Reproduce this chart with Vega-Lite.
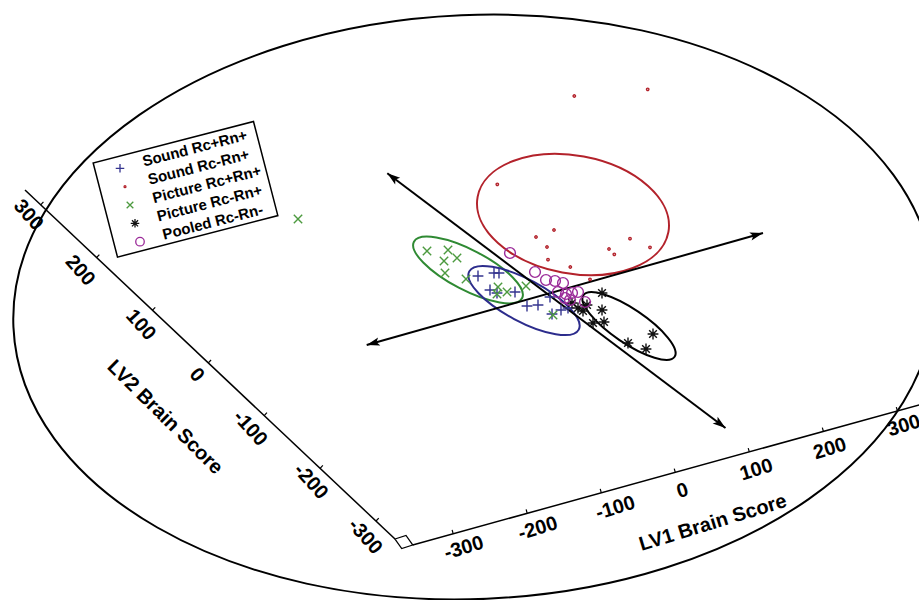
{
  "$schema": "https://vega.github.io/schema/vega-lite/v6.json",
  "width": 919,
  "height": 600,
  "autosize": "none",
  "padding": 0,
  "background": "white",
  "config": {"view": {"stroke": null}},
  "datasets": {
    "frame": [{"sx": 474, "sy": 307}],
    "axisLines": [
      {"axis": "LV1", "sx": 412.7, "sy": 545, "sx2": 925, "sy2": 403.3},
      {"axis": "LV2", "sx": 25, "sy": 190, "sx2": 395, "sy2": 539}
    ],
    "corner": [{"sx": 401.7, "sy": 548.5}],
    "ticks": [
      {"axis": "LV1", "value": -300, "sx": 453.2, "sy": 533.8},
      {"axis": "LV1", "value": -200, "sx": 527.2, "sy": 513.3},
      {"axis": "LV1", "value": -100, "sx": 601.3, "sy": 492.8},
      {"axis": "LV1", "value": 0, "sx": 675.3, "sy": 472.4},
      {"axis": "LV1", "value": 100, "sx": 749.3, "sy": 451.9},
      {"axis": "LV1", "value": 200, "sx": 823.4, "sy": 431.4},
      {"axis": "LV1", "value": 300, "sx": 897.4, "sy": 410.9},
      {"axis": "LV2", "value": 300, "sx": 40.7, "sy": 204.8},
      {"axis": "LV2", "value": 200, "sx": 96.6, "sy": 257.5},
      {"axis": "LV2", "value": 100, "sx": 152.5, "sy": 310.2},
      {"axis": "LV2", "value": 0, "sx": 208.3, "sy": 362.9},
      {"axis": "LV2", "value": -100, "sx": 264.2, "sy": 415.6},
      {"axis": "LV2", "value": -200, "sx": 320.1, "sy": 468.3},
      {"axis": "LV2", "value": -300, "sx": 376, "sy": 521}
    ],
    "tickLabels": [
      {"axis": "LV1", "label": "-300", "sx": 464, "sy": 548},
      {"axis": "LV1", "label": "-200", "sx": 538, "sy": 528.5},
      {"axis": "LV1", "label": "-100", "sx": 615.5, "sy": 508},
      {"axis": "LV1", "label": "0", "sx": 682.5, "sy": 491},
      {"axis": "LV1", "label": "100", "sx": 756.4, "sy": 470},
      {"axis": "LV1", "label": "200", "sx": 830, "sy": 449},
      {"axis": "LV1", "label": "300", "sx": 904, "sy": 426},
      {"axis": "LV2", "label": "300", "sx": 28.3, "sy": 215},
      {"axis": "LV2", "label": "200", "sx": 80, "sy": 270.7},
      {"axis": "LV2", "label": "100", "sx": 140.7, "sy": 325},
      {"axis": "LV2", "label": "0", "sx": 196.7, "sy": 375},
      {"axis": "LV2", "label": "-100", "sx": 250, "sy": 428.3},
      {"axis": "LV2", "label": "-200", "sx": 310.7, "sy": 481.7},
      {"axis": "LV2", "label": "-300", "sx": 365, "sy": 536.7}
    ],
    "titles": [
      {"axis": "LV1", "title": "LV1 Brain Score", "sx": 713, "sy": 523},
      {"axis": "LV2", "title": "LV2 Brain Score", "sx": 165, "sy": 417.3}
    ],
    "arrows": [
      {"sx": 387.3, "sy": 173.3, "sx2": 725.5, "sy2": 428},
      {"sx": 366.7, "sy": 345, "sx2": 763, "sy2": 233}
    ],
    "heads": [
      {"sx": 387.3, "sy": 173.3, "heading": -53},
      {"sx": 725.5, "sy": 428, "heading": 127},
      {"sx": 366.7, "sy": 345, "heading": -105.8},
      {"sx": 763, "sy": 233, "heading": 74.2}
    ],
    "centers": [
      {"group": "Sound Rc+Rn+", "sx": 524, "sy": 300.5},
      {"group": "Sound Rc-Rn+", "sx": 573, "sy": 214.5},
      {"group": "Picture Rc+Rn+", "sx": 468, "sy": 270},
      {"group": "Picture Rc-Rn+", "sx": 629, "sy": 326}
    ],
    "legendBox": [{"sx": 185.5, "sy": 189.3}],
    "legendSymbols": [
      {"group": "Sound Rc+Rn+", "sx": 120, "sy": 168.3},
      {"group": "Sound Rc-Rn+", "sx": 125, "sy": 186.7},
      {"group": "Picture Rc+Rn+", "sx": 130, "sy": 205},
      {"group": "Picture Rc-Rn+", "sx": 135, "sy": 223.3},
      {"group": "Pooled Rc-Rn-", "sx": 140, "sy": 241.7}
    ],
    "legendText": [
      {"group": "Sound Rc+Rn+", "sx": 142.7, "sy": 161.7},
      {"group": "Sound Rc-Rn+", "sx": 148.3, "sy": 180},
      {"group": "Picture Rc+Rn+", "sx": 152.7, "sy": 198.3},
      {"group": "Picture Rc-Rn+", "sx": 157.3, "sy": 216.7},
      {"group": "Pooled Rc-Rn-", "sx": 162.7, "sy": 235}
    ],
    "pts": [
      {"group": "Sound Rc+Rn+", "sx": 478, "sy": 276},
      {"group": "Sound Rc+Rn+", "sx": 494, "sy": 273},
      {"group": "Sound Rc+Rn+", "sx": 499, "sy": 273},
      {"group": "Sound Rc+Rn+", "sx": 490, "sy": 290},
      {"group": "Sound Rc+Rn+", "sx": 497, "sy": 293},
      {"group": "Sound Rc+Rn+", "sx": 515, "sy": 292},
      {"group": "Sound Rc+Rn+", "sx": 527, "sy": 306},
      {"group": "Sound Rc+Rn+", "sx": 538, "sy": 305},
      {"group": "Sound Rc+Rn+", "sx": 550, "sy": 297},
      {"group": "Sound Rc+Rn+", "sx": 552, "sy": 314},
      {"group": "Sound Rc+Rn+", "sx": 561, "sy": 310},
      {"group": "Sound Rc+Rn+", "sx": 568, "sy": 308},
      {"group": "Sound Rc-Rn+", "sx": 574.3, "sy": 96},
      {"group": "Sound Rc-Rn+", "sx": 647.7, "sy": 89.3},
      {"group": "Sound Rc-Rn+", "sx": 497.3, "sy": 184.3},
      {"group": "Sound Rc-Rn+", "sx": 554, "sy": 230},
      {"group": "Sound Rc-Rn+", "sx": 536, "sy": 237},
      {"group": "Sound Rc-Rn+", "sx": 547, "sy": 247},
      {"group": "Sound Rc-Rn+", "sx": 630, "sy": 238.7},
      {"group": "Sound Rc-Rn+", "sx": 650, "sy": 247.3},
      {"group": "Sound Rc-Rn+", "sx": 609, "sy": 249},
      {"group": "Sound Rc-Rn+", "sx": 614.3, "sy": 254.3},
      {"group": "Sound Rc-Rn+", "sx": 548, "sy": 259.7},
      {"group": "Sound Rc-Rn+", "sx": 570.3, "sy": 267},
      {"group": "Sound Rc-Rn+", "sx": 590, "sy": 279.3},
      {"group": "Picture Rc+Rn+", "sx": 298, "sy": 219},
      {"group": "Picture Rc+Rn+", "sx": 427, "sy": 251},
      {"group": "Picture Rc+Rn+", "sx": 448, "sy": 250},
      {"group": "Picture Rc+Rn+", "sx": 444, "sy": 261},
      {"group": "Picture Rc+Rn+", "sx": 457, "sy": 258},
      {"group": "Picture Rc+Rn+", "sx": 445, "sy": 273},
      {"group": "Picture Rc+Rn+", "sx": 466, "sy": 279},
      {"group": "Picture Rc+Rn+", "sx": 498, "sy": 287},
      {"group": "Picture Rc+Rn+", "sx": 497, "sy": 294},
      {"group": "Picture Rc+Rn+", "sx": 507, "sy": 292},
      {"group": "Picture Rc+Rn+", "sx": 526, "sy": 286},
      {"group": "Picture Rc+Rn+", "sx": 553, "sy": 315},
      {"group": "Picture Rc-Rn+", "sx": 602, "sy": 293},
      {"group": "Picture Rc-Rn+", "sx": 602, "sy": 310},
      {"group": "Picture Rc-Rn+", "sx": 593, "sy": 323},
      {"group": "Picture Rc-Rn+", "sx": 604, "sy": 322},
      {"group": "Picture Rc-Rn+", "sx": 653, "sy": 334},
      {"group": "Picture Rc-Rn+", "sx": 628, "sy": 343},
      {"group": "Picture Rc-Rn+", "sx": 646, "sy": 349},
      {"group": "Picture Rc-Rn+", "sx": 583, "sy": 311},
      {"group": "Picture Rc-Rn+", "sx": 578, "sy": 308},
      {"group": "Picture Rc-Rn+", "sx": 587, "sy": 305},
      {"group": "Picture Rc-Rn+", "sx": 572, "sy": 303},
      {"group": "Pooled Rc-Rn-", "sx": 510, "sy": 253},
      {"group": "Pooled Rc-Rn-", "sx": 535, "sy": 272},
      {"group": "Pooled Rc-Rn-", "sx": 546, "sy": 280},
      {"group": "Pooled Rc-Rn-", "sx": 555, "sy": 281},
      {"group": "Pooled Rc-Rn-", "sx": 563, "sy": 283},
      {"group": "Pooled Rc-Rn-", "sx": 558, "sy": 292},
      {"group": "Pooled Rc-Rn-", "sx": 566, "sy": 294},
      {"group": "Pooled Rc-Rn-", "sx": 572, "sy": 293},
      {"group": "Pooled Rc-Rn-", "sx": 578, "sy": 292},
      {"group": "Pooled Rc-Rn-", "sx": 585, "sy": 302},
      {"group": "Pooled Rc-Rn-", "sx": 565, "sy": 298},
      {"group": "Pooled Rc-Rn-", "sx": 570, "sy": 300}
    ]
  },
  "encoding": {
    "x": {"field": "sx", "type": "quantitative", "scale": {"domain": [0, 919], "nice": false, "zero": false}, "axis": null},
    "y": {"field": "sy", "type": "quantitative", "scale": {"domain": [0, 600], "nice": false, "zero": false, "reverse": true}, "axis": null}
  },
  "layer": [
    {
      "data": {"name": "frame"},
      "mark": {"type": "point", "shape": "M-1,0A1,0.6334 0 1,0 1,0A1,0.6334 0 1,0 -1,0Z", "size": 850084, "angle": -2.5, "filled": false, "stroke": "#000", "strokeWidth": 2, "opacity": 1}
    },
    {
      "data": {"name": "axisLines"},
      "mark": {"type": "rule", "stroke": "#000", "strokeWidth": 1.5},
      "encoding": {"x2": {"field": "sx2"}, "y2": {"field": "sy2"}}
    },
    {
      "data": {"name": "corner"},
      "mark": {"type": "point", "shape": "M-6.7,-9.5L4.3,-13L11,-3.5L0,0Z", "size": 4, "filled": false, "stroke": "#000", "strokeWidth": 1.3, "opacity": 1}
    },
    {
      "data": {"name": "ticks"},
      "transform": [{"filter": "datum.axis === 'LV1'"}],
      "mark": {"type": "point", "shape": "M0,0L0,-1", "size": 64, "angle": -15.5, "filled": false, "stroke": "#000", "strokeWidth": 1.2, "opacity": 1}
    },
    {
      "data": {"name": "ticks"},
      "transform": [{"filter": "datum.axis === 'LV2'"}],
      "mark": {"type": "point", "shape": "M0,0L0,-1", "size": 64, "angle": 43.4, "filled": false, "stroke": "#000", "strokeWidth": 1.2, "opacity": 1}
    },
    {
      "data": {"name": "tickLabels"},
      "transform": [{"filter": "datum.axis === 'LV1'"}],
      "mark": {"type": "text", "angle": -17, "font": "Liberation Sans", "fontSize": 20, "fontWeight": "bold", "fill": "#000", "align": "center", "baseline": "middle"},
      "encoding": {"text": {"field": "label", "type": "nominal"}}
    },
    {
      "data": {"name": "tickLabels"},
      "transform": [{"filter": "datum.axis === 'LV2'"}],
      "mark": {"type": "text", "angle": 48, "font": "Liberation Sans", "fontSize": 20, "fontWeight": "bold", "fill": "#000", "align": "center", "baseline": "middle"},
      "encoding": {"text": {"field": "label", "type": "nominal"}}
    },
    {
      "data": {"name": "titles"},
      "transform": [{"filter": "datum.axis === 'LV1'"}],
      "mark": {"type": "text", "angle": -17, "font": "Liberation Sans", "fontSize": 20, "fontWeight": "bold", "fill": "#000", "align": "center", "baseline": "middle"},
      "encoding": {"text": {"field": "title", "type": "nominal"}}
    },
    {
      "data": {"name": "titles"},
      "transform": [{"filter": "datum.axis === 'LV2'"}],
      "mark": {"type": "text", "angle": 44.6, "font": "Liberation Sans", "fontSize": 20, "fontWeight": "bold", "fill": "#000", "align": "center", "baseline": "middle"},
      "encoding": {"text": {"field": "title", "type": "nominal"}}
    },
    {
      "data": {"name": "legendBox"},
      "mark": {"type": "point", "shape": "M-1,-0.587L1,-0.587L1,0.587L-1,0.587Z", "size": 27423, "angle": -14.5, "filled": false, "fill": "#fff", "fillOpacity": 1, "stroke": "#000", "strokeWidth": 1.5, "opacity": 1}
    },
    {
      "data": {"name": "legendText"},
      "mark": {"type": "text", "angle": -14.5, "font": "Liberation Sans", "fontSize": 15, "fontWeight": "bold", "fill": "#000", "align": "left", "baseline": "middle"},
      "encoding": {"text": {"field": "group", "type": "nominal"}}
    },
    {
      "data": {"name": "centers"},
      "transform": [{"filter": "datum.group === 'Sound Rc-Rn+'"}],
      "mark": {"type": "point", "shape": "M-1,0A1,0.608 0 1,0 1,0A1,0.608 0 1,0 -1,0Z", "size": 37636, "angle": 10.5, "filled": false, "stroke": "#b3222b", "strokeWidth": 2, "opacity": 1}
    },
    {
      "data": {"name": "centers"},
      "transform": [{"filter": "datum.group === 'Picture Rc+Rn+'"}],
      "mark": {"type": "point", "shape": "M-1,0A1,0.328 0 1,0 1,0A1,0.328 0 1,0 -1,0Z", "size": 14884, "angle": 27.6, "filled": false, "stroke": "#2f8a33", "strokeWidth": 2, "opacity": 1}
    },
    {
      "data": {"name": "centers"},
      "transform": [{"filter": "datum.group === 'Sound Rc+Rn+'"}],
      "mark": {"type": "point", "shape": "M-1,0A1,0.339 0 1,0 1,0A1,0.339 0 1,0 -1,0Z", "size": 15376, "angle": 28, "filled": false, "stroke": "#2c2c8c", "strokeWidth": 2, "opacity": 1}
    },
    {
      "data": {"name": "centers"},
      "transform": [{"filter": "datum.group === 'Picture Rc-Rn+'"}],
      "mark": {"type": "point", "shape": "M-1,0A1,0.309 0 1,0 1,0A1,0.309 0 1,0 -1,0Z", "size": 12100, "angle": 34, "filled": false, "stroke": "#000", "strokeWidth": 2, "opacity": 1}
    },
    {
      "data": {"name": "arrows"},
      "mark": {"type": "rule", "stroke": "#000", "strokeWidth": 2},
      "encoding": {"x2": {"field": "sx2"}, "y2": {"field": "sy2"}}
    },
    {
      "data": {"name": "heads"},
      "mark": {"type": "point", "shape": "M0,0L0.32,1L0,0.78L-0.32,1Z", "size": 676, "filled": true, "fill": "#000", "opacity": 1},
      "encoding": {"angle": {"field": "heading", "type": "quantitative", "scale": null}}
    },
    {
      "data": {"name": "legendSymbols"},
      "mark": {"type": "point", "size": 90, "filled": false, "strokeWidth": 1.3, "opacity": 1},
      "encoding": {
        "shape": {"field": "group", "type": "nominal", "legend": null, "scale": {"domain": ["Sound Rc+Rn+", "Sound Rc-Rn+", "Picture Rc+Rn+", "Picture Rc-Rn+", "Pooled Rc-Rn-"], "range": ["M-0.9,0L0.9,0M0,-0.9L0,0.9", "M-0.2,0A0.2,0.2 0 1,0 0.2,0A0.2,0.2 0 1,0 -0.2,0Z", "M-0.7,-0.7L0.7,0.7M-0.7,0.7L0.7,-0.7", "M-0.9,0L0.9,0M0,-0.9L0,0.9M-0.64,-0.64L0.64,0.64M-0.64,0.64L0.64,-0.64", "M-0.9,0A0.9,0.9 0 1,0 0.9,0A0.9,0.9 0 1,0 -0.9,0Z"]}},
        "color": {"field": "group", "type": "nominal", "legend": null, "scale": {"domain": ["Sound Rc+Rn+", "Sound Rc-Rn+", "Picture Rc+Rn+", "Picture Rc-Rn+", "Pooled Rc-Rn-"], "range": ["#34348f", "#b3222b", "#4c9a3f", "#111111", "#9b2b99"]}}
      }
    },
    {
      "data": {"name": "pts"},
      "mark": {"type": "point", "size": 144, "filled": false, "strokeWidth": 1.4, "opacity": 1},
      "encoding": {
        "shape": {"field": "group", "type": "nominal", "legend": null},
        "color": {"field": "group", "type": "nominal", "legend": null}
      }
    }
  ]
}
